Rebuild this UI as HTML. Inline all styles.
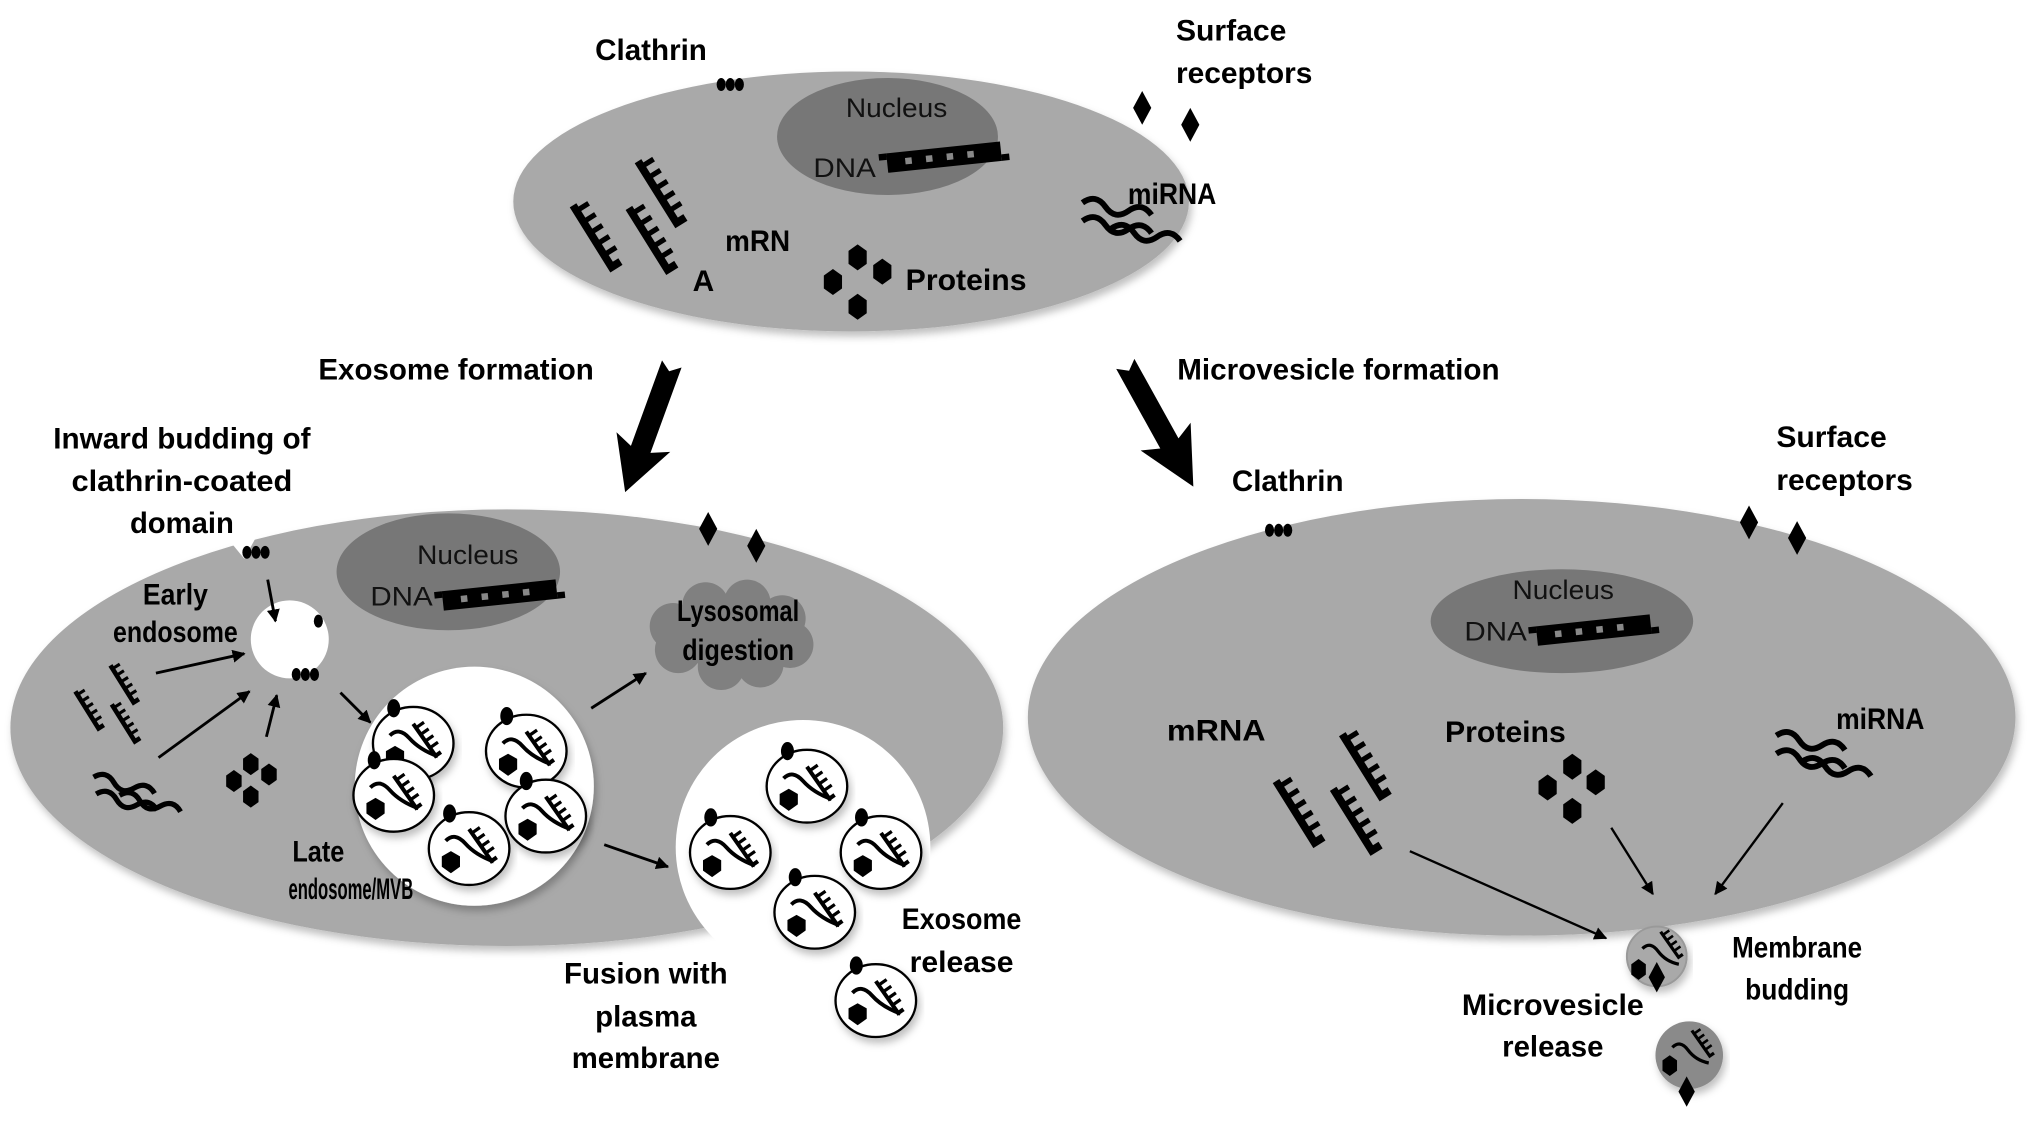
<!DOCTYPE html>
<html><head><meta charset="utf-8"><style>
html,body{margin:0;padding:0;background:#fff;}
svg{display:block;}
text{font-family:"Liberation Sans Narrow","Liberation Sans",sans-serif;font-weight:bold;font-size:23px;fill:#000;}
.n{font-weight:normal;font-size:21px;fill:#111;}
</style></head><body>
<svg width="2031" height="1121" viewBox="0 0 1563 862.6" xmlns="http://www.w3.org/2000/svg">
<defs>
<marker id="ah" markerWidth="10" markerHeight="10" refX="9" refY="5" orient="auto" markerUnits="userSpaceOnUse"><path d="M0 0L10 5L0 10Z" fill="#000"/></marker>
<filter id="sh" x="-10%" y="-10%" width="120%" height="130%"><feDropShadow dx="2" dy="4" stdDeviation="3" flood-color="#000" flood-opacity="0.25"/></filter>
<g id="lad"><path d="M0 0L0 56L8 56" stroke="#000" stroke-width="6" fill="none"/><path d="M0 5h11M0 15h11M0 25h11M0 35h11M0 45h11" stroke="#000" stroke-width="4"/></g>
<g id="slad"><path d="M0 0L0 24L4 24" stroke="#000" stroke-width="2.5" fill="none"/><path d="M0 3h6M0 8h6M0 13h6M0 18h6" stroke="#000" stroke-width="2"/></g>
<g id="wav"><path d="M0 0q9 -9 18 0t18 0t18 0" stroke="#000" stroke-width="4.5" fill="none"/></g>
<polygon id="hex" points="0,-10 7,-5 7,5 0,10 -7,5 -7,-5" fill="#000"/>
<polygon id="dia" points="0,-13 7,0 0,13 -7,0" fill="#000"/>
<g id="clt"><ellipse cx="-7" cy="0" rx="3.5" ry="5" fill="#000"/><ellipse cx="0" cy="0" rx="3.5" ry="5" fill="#000"/><ellipse cx="7" cy="0" rx="3.5" ry="5" fill="#000"/></g>
<g id="dna"><rect x="0" y="0" width="88" height="15" fill="#000"/><rect x="-6" y="0" width="6" height="5" fill="#000"/><rect x="88" y="10" width="6" height="5" fill="#000"/><rect x="14" y="5" width="5" height="5" fill="#888"/><rect x="30" y="5" width="5" height="5" fill="#888"/><rect x="46" y="5" width="5" height="5" fill="#888"/><rect x="62" y="5" width="5" height="5" fill="#888"/></g>
<g id="ves"><ellipse rx="31" ry="28" fill="#fff" stroke="#000" stroke-width="1.8" filter="url(#sh)"/><ellipse cx="-15" cy="-27" rx="5" ry="7" fill="#000"/><path d="M-18 -6q7 -7 15 2t22 14" stroke="#000" stroke-width="3" fill="none"/><use href="#slad" transform="translate(0,-15) rotate(-35) scale(1.25)"/><polygon points="-14,2 -7,6 -7,14 -14,19 -21,14 -21,6" fill="#000"/></g>
</defs>

<!-- TOP CELL -->
<ellipse cx="655" cy="155" rx="260" ry="100" fill="#a9a9a9" filter="url(#sh)"/>
<ellipse cx="683" cy="105" rx="85" ry="45" fill="#777"/>
<text class="n" x="690" y="90" text-anchor="middle" textLength="78" lengthAdjust="spacingAndGlyphs">Nucleus</text>
<text class="n" x="626" y="136" textLength="48" lengthAdjust="spacingAndGlyphs">DNA</text>
<use href="#dna" transform="translate(682,118) rotate(-6)"/>
<use href="#clt" transform="translate(562,65)"/>
<text x="458" y="46" textLength="86" lengthAdjust="spacingAndGlyphs">Clathrin</text>
<text x="905" y="31" textLength="85" lengthAdjust="spacingAndGlyphs">Surface</text>
<text x="905" y="64" textLength="105" lengthAdjust="spacingAndGlyphs">receptors</text>
<use href="#dia" transform="translate(879,83)"/><use href="#dia" transform="translate(916,96)"/>
<use href="#lad" transform="translate(491,124) rotate(-32)"/>
<use href="#lad" transform="translate(441,158) rotate(-32)"/>
<use href="#lad" transform="translate(484,160) rotate(-32)"/>
<text x="558" y="193" textLength="50" lengthAdjust="spacingAndGlyphs">mRN</text>
<text x="533" y="224">A</text>
<use href="#hex" transform="translate(660,198)"/><use href="#hex" transform="translate(679,209)"/><use href="#hex" transform="translate(641,217)"/><use href="#hex" transform="translate(660,236)"/>
<text x="697" y="223" textLength="93" lengthAdjust="spacingAndGlyphs">Proteins</text>
<use href="#wav" transform="translate(833,156) rotate(10)"/><use href="#wav" transform="translate(833,170) rotate(10)"/><use href="#wav" transform="translate(855,176) rotate(10)"/>
<text x="868" y="157" textLength="68" lengthAdjust="spacingAndGlyphs">miRNA</text>

<!-- BIG ARROWS -->
<text x="245" y="292" textLength="212" lengthAdjust="spacingAndGlyphs">Exosome formation</text>
<text x="906" y="292" textLength="248" lengthAdjust="spacingAndGlyphs">Microvesicle formation</text>
<polygon points="0,-8 70,-8 64,-22 105,0 64,22 70,8 0,8 6,0" fill="#000" transform="translate(517,280) rotate(110)"/>
<polygon points="0,-8 70,-8 64,-22 108,0 64,22 70,8 0,8 6,0" fill="#000" transform="translate(866,280) rotate(61)"/>

<!-- LEFT CELL -->
<ellipse cx="390" cy="560" rx="382" ry="168" fill="#a9a9a9" filter="url(#sh)"/>
<polygon points="170,408 188,430 200,408" fill="#fff"/>
<circle cx="618" cy="652" r="98" fill="#fff"/>
<ellipse cx="345" cy="440" rx="86" ry="45" fill="#777"/>
<text class="n" x="360" y="434" text-anchor="middle" textLength="78" lengthAdjust="spacingAndGlyphs">Nucleus</text>
<text class="n" x="285" y="466" textLength="48" lengthAdjust="spacingAndGlyphs">DNA</text>
<use href="#dna" transform="translate(340,455) rotate(-6)"/>
<text x="140" y="345" text-anchor="middle" textLength="198" lengthAdjust="spacingAndGlyphs">Inward budding of</text>
<text x="140" y="378" text-anchor="middle" textLength="170" lengthAdjust="spacingAndGlyphs">clathrin-coated</text>
<text x="140" y="410" text-anchor="middle" textLength="80" lengthAdjust="spacingAndGlyphs">domain</text>
<use href="#clt" transform="translate(197,425)"/>
<use href="#dia" transform="translate(545,407)"/><use href="#dia" transform="translate(582,420)"/>
<g fill="#808080">
<circle cx="518" cy="482" r="18"/><circle cx="543" cy="466" r="18"/><circle cx="575" cy="464" r="18"/><circle cx="602" cy="476" r="18"/><circle cx="608" cy="496" r="18"/><circle cx="585" cy="511" r="18"/><circle cx="555" cy="513" r="18"/><circle cx="522" cy="500" r="18"/><ellipse cx="562" cy="488" rx="50" ry="26"/></g>
<text x="568" y="478" text-anchor="middle" textLength="94" lengthAdjust="spacingAndGlyphs">Lysosomal</text>
<text x="568" y="508" text-anchor="middle" textLength="86" lengthAdjust="spacingAndGlyphs">digestion</text>
<text x="135" y="465" text-anchor="middle" textLength="50" lengthAdjust="spacingAndGlyphs">Early</text>
<text x="135" y="494" text-anchor="middle" textLength="96" lengthAdjust="spacingAndGlyphs">endosome</text>
<circle cx="223" cy="492" r="30" fill="#fff"/>
<ellipse cx="245" cy="478" rx="3.5" ry="5" fill="#000"/>
<use href="#clt" transform="translate(235,519)"/>
<use href="#lad" transform="translate(85,512) rotate(-32) scale(0.6)"/>
<use href="#lad" transform="translate(58,532) rotate(-32) scale(0.6)"/>
<use href="#lad" transform="translate(86,542) rotate(-32) scale(0.6)"/>
<use href="#wav" transform="translate(72,598) rotate(15) scale(0.9)"/><use href="#wav" transform="translate(74,611) rotate(15) scale(0.9)"/><use href="#wav" transform="translate(92,612) rotate(15) scale(0.9)"/>
<use href="#hex" transform="translate(193,588) scale(0.85)"/><use href="#hex" transform="translate(207,596) scale(0.85)"/><use href="#hex" transform="translate(180,601) scale(0.85)"/><use href="#hex" transform="translate(193,613) scale(0.85)"/>
<g stroke="#000" stroke-width="2.2" marker-end="url(#ah)">
<line x1="206" y1="446" x2="212" y2="478"/><line x1="120" y1="518" x2="188" y2="503"/><line x1="122" y1="583" x2="192" y2="532"/><line x1="205" y1="567" x2="213" y2="535"/><line x1="262" y1="533" x2="285" y2="556"/><line x1="455" y1="545" x2="497" y2="518"/><line x1="465" y1="650" x2="514" y2="667"/></g>
<circle cx="365" cy="605" r="92" fill="#fff" filter="url(#sh)"/>
<use href="#ves" transform="translate(318,572)"/><use href="#ves" transform="translate(405,578)"/><use href="#ves" transform="translate(303,612)"/><use href="#ves" transform="translate(420,628)"/><use href="#ves" transform="translate(361,653)"/>
<use href="#ves" transform="translate(621,605)"/><use href="#ves" transform="translate(562,656)"/><use href="#ves" transform="translate(678,656)"/><use href="#ves" transform="translate(627,702)"/><use href="#ves" transform="translate(674,770)"/>
<text x="245" y="663" text-anchor="middle" textLength="40" lengthAdjust="spacingAndGlyphs">Late</text>
<text x="270" y="692" text-anchor="middle" textLength="96" lengthAdjust="spacingAndGlyphs">endosome/MVB</text>
<text x="740" y="715" text-anchor="middle" textLength="92" lengthAdjust="spacingAndGlyphs">Exosome</text>
<text x="740" y="748" text-anchor="middle" textLength="80" lengthAdjust="spacingAndGlyphs">release</text>
<text x="497" y="757" text-anchor="middle" textLength="126" lengthAdjust="spacingAndGlyphs">Fusion with</text>
<text x="497" y="790" text-anchor="middle" textLength="78" lengthAdjust="spacingAndGlyphs">plasma</text>
<text x="497" y="822" text-anchor="middle" textLength="114" lengthAdjust="spacingAndGlyphs">membrane</text>

<!-- RIGHT CELL -->
<ellipse cx="1171" cy="552" rx="380" ry="168" fill="#a9a9a9" filter="url(#sh)"/>
<ellipse cx="1202" cy="478" rx="101" ry="40" fill="#777"/>
<text class="n" x="1203" y="461" text-anchor="middle" textLength="78" lengthAdjust="spacingAndGlyphs">Nucleus</text>
<text class="n" x="1127" y="493" textLength="48" lengthAdjust="spacingAndGlyphs">DNA</text>
<use href="#dna" transform="translate(1182,482) rotate(-6)"/>
<text x="948" y="378" textLength="86" lengthAdjust="spacingAndGlyphs">Clathrin</text>
<use href="#clt" transform="translate(984,408)"/>
<text x="1367" y="344" textLength="85" lengthAdjust="spacingAndGlyphs">Surface</text>
<text x="1367" y="377" textLength="105" lengthAdjust="spacingAndGlyphs">receptors</text>
<use href="#dia" transform="translate(1346,402)"/><use href="#dia" transform="translate(1383,414)"/>
<text x="898" y="570" textLength="76" lengthAdjust="spacingAndGlyphs">mRNA</text>
<use href="#lad" transform="translate(1033,565) rotate(-32)"/>
<use href="#lad" transform="translate(982,601) rotate(-32)"/>
<use href="#lad" transform="translate(1026,607) rotate(-32)"/>
<text x="1112" y="571" textLength="93" lengthAdjust="spacingAndGlyphs">Proteins</text>
<use href="#hex" transform="translate(1210,590)"/><use href="#hex" transform="translate(1228,602)"/><use href="#hex" transform="translate(1191,606)"/><use href="#hex" transform="translate(1210,624)"/>
<text x="1413" y="561" textLength="68" lengthAdjust="spacingAndGlyphs">miRNA</text>
<use href="#wav" transform="translate(1367,566) rotate(12)"/><use href="#wav" transform="translate(1367,580) rotate(12)"/><use href="#wav" transform="translate(1387,586) rotate(12)"/>
<g stroke="#000" stroke-width="1.8" marker-end="url(#ah)">
<line x1="1085" y1="655" x2="1236" y2="722"/><line x1="1240" y1="637" x2="1272" y2="688"/><line x1="1372" y1="618" x2="1320" y2="688"/></g>
<circle cx="1275" cy="736" r="23" fill="#a9a9a9" stroke="#999" stroke-width="1.5" filter="url(#sh)"/>
<path d="M1264 730q6 -6 12 2t16 10" stroke="#000" stroke-width="2.5" fill="none"/>
<use href="#slad" transform="translate(1278,717) rotate(-35)"/>
<use href="#hex" transform="translate(1261,746) scale(0.8)"/>
<use href="#dia" transform="translate(1275,752) scale(0.9)"/>
<circle cx="1300" cy="812" r="26" fill="#8a8a8a" filter="url(#sh)"/>
<path d="M1287 806q6 -6 12 2t16 10" stroke="#000" stroke-width="2.5" fill="none"/>
<use href="#slad" transform="translate(1302,793) rotate(-35)"/>
<use href="#hex" transform="translate(1285,820) scale(0.8)"/>
<use href="#dia" transform="translate(1298,840) scale(0.9)"/>
<text x="1383" y="737" text-anchor="middle" textLength="100" lengthAdjust="spacingAndGlyphs">Membrane</text>
<text x="1383" y="769" text-anchor="middle" textLength="80" lengthAdjust="spacingAndGlyphs">budding</text>
<text x="1195" y="781" text-anchor="middle" textLength="140" lengthAdjust="spacingAndGlyphs">Microvesicle</text>
<text x="1195" y="813" text-anchor="middle" textLength="78" lengthAdjust="spacingAndGlyphs">release</text>
</svg>
</body></html>
